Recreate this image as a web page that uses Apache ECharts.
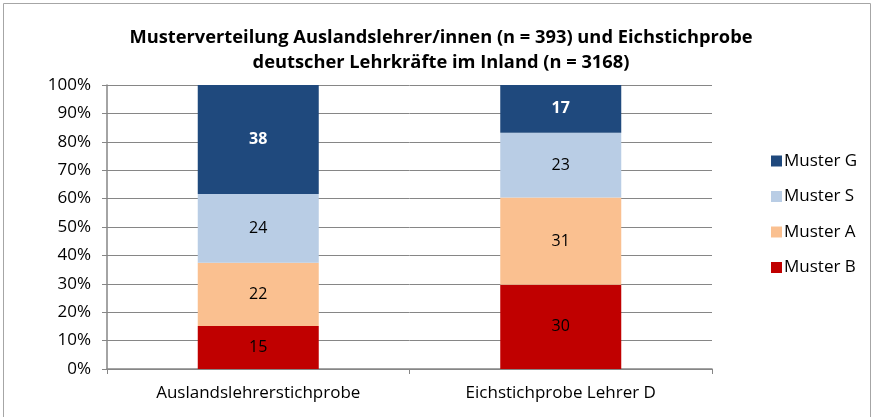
<!DOCTYPE html>
<html lang="de">
<head>
    <meta charset="UTF-8">
    <script src="https://cdn.jsdelivr.net/npm/echarts@6/dist/echarts.min.js"></script>
    <style>
        html, body { margin: 0; padding: 0; background: #fff; }
        #chart { width: 877px; height: 417px; }
    </style>
</head>
<body>
    <div id="chart"></div>
    <script>
        // data
        const categories = ['Auslandslehrerstichprobe', 'Eichstichprobe Lehrer D'];
        const musterB = [15, 30];
        const musterA = [22, 31];
        const musterS = [24, 23];
        const musterG = [38, 17];
        const yTicks = [0, 10, 20, 30, 40, 50, 60, 70, 80, 90, 100];

        const colors = { B: '#C00000', A: '#FAC090', S: '#B9CDE5', G: '#1F497D' };
        const font = 'Open Sans';

        // bars are 100% stacked: each column scaled to its own total
        const totals = categories.map((c, i) => musterB[i] + musterA[i] + musterS[i] + musterG[i]);
        function pct(arr) {
            return arr.map((v, i) => ({ value: v / totals[i] * 100, raw: v }));
        }

        function makeSeries(name, arr, color, labelColor, bold) {
            return {
                name: name,
                type: 'bar',
                stack: 'all',
                barWidth: '40%',
                data: pct(arr),
                itemStyle: { color: color },
                label: {
                    show: true,
                    position: 'inside',
                    color: labelColor,
                    fontFamily: font,
                    fontSize: 16,
                    fontWeight: bold ? 'bold' : 'normal',
                    formatter: p => p.data.raw
                }
            };
        }

        const chart = echarts.init(document.getElementById('chart'));
        chart.setOption({
            animation: false,
            title: {
                text: 'Musterverteilung Auslandslehrer/innen (n = 393) und Eichstichprobe\ndeutscher Lehrkräfte im Inland (n = 3168)',
                left: 436,
                textAlign: 'center',
                top: 20,
                textStyle: {
                    fontFamily: font,
                    fontSize: 18.3,
                    fontWeight: 'bold',
                    color: '#000',
                    lineHeight: 25
                }
            },
            graphic: [{
                type: 'rect',
                shape: { x: 3.5, y: 3.5, width: 867, height: 420 },
                style: { fill: 'none', stroke: '#a6a6a6', lineWidth: 1 },
                silent: true
            }],
            legend: {
                orient: 'vertical',
                left: 766,
                top: 147,
                itemWidth: 11,
                itemHeight: 11,
                itemGap: 17.5,
                icon: 'rect',
                data: ['Muster G', 'Muster S', 'Muster A', 'Muster B'],
                textStyle: { fontFamily: font, fontSize: 17, color: '#000', lineHeight: 18, padding: [0, 0, 0, -3] }
            },
            grid: { left: 107, right: 165, top: 85, bottom: 48 },
            xAxis: {
                type: 'category',
                data: categories,
                axisLine: { lineStyle: { color: '#868686', width: 1.5 } },
                axisTick: { show: true, length: 5, lineStyle: { color: '#868686' } },
                axisLabel: { fontFamily: font, fontSize: 17, color: '#000', margin: 16 }
            },
            yAxis: {
                type: 'value',
                min: yTicks[0],
                max: yTicks[yTicks.length - 1],
                interval: 10,
                axisLine: { show: true, lineStyle: { color: '#868686', width: 1.5 } },
                axisTick: { show: true, length: 5, lineStyle: { color: '#868686' } },
                splitLine: { lineStyle: { color: '#868686', width: 1 } },
                axisLabel: { fontFamily: font, fontSize: 17, color: '#000', margin: 16, formatter: '{value}%' }
            },
            series: [
                makeSeries('Muster B', musterB, colors.B, '#000', false),
                makeSeries('Muster A', musterA, colors.A, '#000', false),
                makeSeries('Muster S', musterS, colors.S, '#000', false),
                makeSeries('Muster G', musterG, colors.G, '#fff', true)
            ]
        });
    </script>
</body>
</html>
